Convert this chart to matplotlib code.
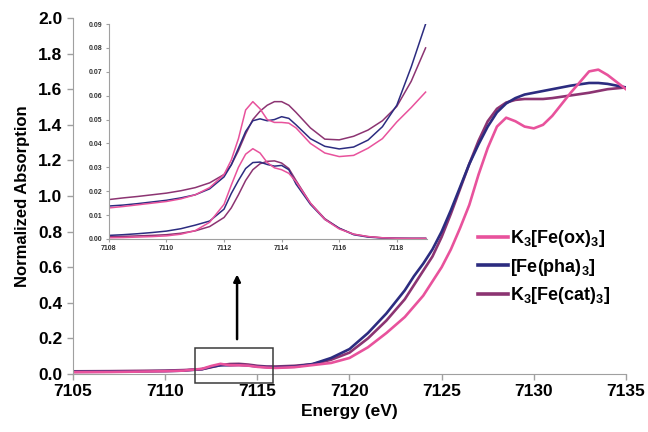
#!/usr/bin/env python
import matplotlib
matplotlib.use('Agg')
import matplotlib.pyplot as plt
from matplotlib.patches import Rectangle

plt.rcParams['font.family'] = ['Liberation Sans', 'DejaVu Sans']
plt.rcParams['font.weight'] = 'bold'
plt.rcParams['mathtext.fontset'] = 'custom'
plt.rcParams['mathtext.rm'] = 'Liberation Sans:bold'
plt.rcParams['mathtext.bf'] = 'Liberation Sans:bold'
plt.rcParams['mathtext.default'] = 'bf'

# Colours
c_ox = '#e8529c'
c_pha = '#2c2c80'
c_cat = '#8c3472'
grey = '#a0a0a0'

labels = [r'K$_3$[Fe(ox)$_3$]', r'[Fe(pha)$_3$]', r'K$_3$[Fe(cat)$_3$]']

# Main spectra (energy in eV, normalized absorption)
energy = [7105, 7107, 7109, 7110, 7111, 7112, 7112.5, 7113, 7113.5, 7114, 7114.5,
          7115, 7115.5, 7116, 7117, 7118, 7119, 7120, 7121, 7122, 7123, 7123.5,
          7124, 7124.5, 7125, 7125.5, 7126, 7126.5, 7127, 7127.5, 7128, 7128.5,
          7129, 7129.5, 7130, 7130.5, 7131, 7132, 7133, 7133.5, 7134, 7135]
ox = [0.010, 0.011, 0.014, 0.0155, 0.019, 0.029, 0.045, 0.057, 0.049, 0.049, 0.047,
      0.040, 0.036, 0.034, 0.038, 0.050, 0.062, 0.09, 0.15, 0.23, 0.32, 0.38,
      0.44, 0.52, 0.60, 0.70, 0.82, 0.95, 1.12, 1.27, 1.39, 1.44,
      1.42, 1.39, 1.38, 1.40, 1.45, 1.58, 1.70, 1.71, 1.68, 1.60]
pha = [0.012, 0.013, 0.015, 0.016, 0.019, 0.027, 0.040, 0.049, 0.049, 0.051, 0.048,
       0.042, 0.039, 0.038, 0.041, 0.056, 0.09, 0.14, 0.23, 0.34, 0.47, 0.55,
       0.62, 0.70, 0.80, 0.92, 1.05, 1.18, 1.29, 1.39, 1.47, 1.52,
       1.55, 1.57, 1.58, 1.59, 1.60, 1.62, 1.635, 1.635, 1.63, 1.61]
cat = [0.015, 0.016, 0.018, 0.019, 0.022, 0.027, 0.038, 0.050, 0.056, 0.057, 0.053,
       0.046, 0.042, 0.042, 0.046, 0.055, 0.080, 0.12, 0.20, 0.30, 0.42, 0.50,
       0.58, 0.66, 0.77, 0.90, 1.04, 1.18, 1.31, 1.42, 1.49, 1.525,
       1.54, 1.545, 1.545, 1.545, 1.55, 1.565, 1.58, 1.59, 1.60, 1.61]

# Pre-edge inset: raw data and background subtracted
e_pre = [7108, 7108.5, 7109, 7109.5, 7110, 7110.5, 7111, 7111.5, 7112, 7112.25,
         7112.5, 7112.75, 7113, 7113.25, 7113.5, 7113.75, 7114, 7114.25, 7114.5,
         7115, 7115.5, 7116, 7116.5, 7117, 7117.5, 7118, 7118.5, 7119]
ox_raw = [0.0130, 0.0136, 0.0143, 0.0150, 0.0157, 0.0168, 0.0185, 0.0215, 0.0270, 0.0330,
          0.0420, 0.0540, 0.0575, 0.0545, 0.0500, 0.0488, 0.0488, 0.0485, 0.0465,
          0.0400, 0.0360, 0.0345, 0.0350, 0.0380, 0.0420, 0.0490, 0.0550, 0.0615]
pha_raw = [0.0138, 0.0142, 0.0148, 0.0155, 0.0162, 0.0172, 0.0185, 0.0210, 0.0260, 0.0310,
           0.0380, 0.0450, 0.0495, 0.0503, 0.0495, 0.0500, 0.0512, 0.0505, 0.0478,
           0.0420, 0.0388, 0.0377, 0.0385, 0.0414, 0.0470, 0.0560, 0.0720, 0.0900]
cat_raw = [0.0165, 0.0172, 0.0178, 0.0185, 0.0192, 0.0202, 0.0215, 0.0235, 0.0270, 0.0310,
           0.0370, 0.0440, 0.0500, 0.0535, 0.0560, 0.0575, 0.0575, 0.0560, 0.0530,
           0.0465, 0.0418, 0.0415, 0.0430, 0.0456, 0.0495, 0.0555, 0.0660, 0.0800]
ox_sub = [0.0005, 0.0006, 0.0008, 0.0010, 0.0013, 0.0020, 0.0035, 0.0070, 0.0145, 0.0225,
          0.0300, 0.0355, 0.0378, 0.0360, 0.0320, 0.0298, 0.0290, 0.0275, 0.0240,
          0.0150, 0.0082, 0.0042, 0.0020, 0.0010, 0.0005, 0.0003, 0.0002, 0.0002]
pha_sub = [0.0015, 0.0018, 0.0022, 0.0027, 0.0033, 0.0043, 0.0058, 0.0075, 0.0125, 0.0190,
           0.0245, 0.0295, 0.0320, 0.0322, 0.0312, 0.0305, 0.0308, 0.0290, 0.0230,
           0.0145, 0.0082, 0.0045, 0.0018, 0.0008, 0.0004, 0.0003, 0.0002, 0.0002]
cat_sub = [0.0010, 0.0011, 0.0013, 0.0015, 0.0018, 0.0024, 0.0034, 0.0052, 0.0090, 0.0130,
           0.0185, 0.0245, 0.0290, 0.0315, 0.0325, 0.0327, 0.0318, 0.0295, 0.0245,
           0.0150, 0.0085, 0.0045, 0.0020, 0.0010, 0.0005, 0.0003, 0.0003, 0.0003]

fig = plt.figure(figsize=(6.48, 4.32), dpi=100)
ax = fig.add_axes([0.1127, 0.1343, 0.8533, 0.824])

ax.plot(energy, cat, color=c_cat, lw=1.9, label=labels[2])
ax.plot(energy, pha, color=c_pha, lw=1.9, label=labels[1])
ax.plot(energy, ox, color=c_ox, lw=1.9, label=labels[0])

ax.set_xlim(7105, 7135)
ax.set_ylim(0, 2.0)
ax.set_xticks(range(7105, 7136, 5))
ax.set_yticks([0.0, 0.2, 0.4, 0.6, 0.8, 1.0, 1.2, 1.4, 1.6, 1.8, 2.0])
ax.set_yticklabels(['%.1f' % v for v in ax.get_yticks()])
for s in ['top', 'right']:
    ax.spines[s].set_visible(False)
for s in ['left', 'bottom']:
    ax.spines[s].set_color(grey)
ax.tick_params(colors=grey, labelcolor='black', labelsize=12.5, length=4, width=1)
ax.set_xlabel('Energy (eV)', fontsize=12.5, fontweight='bold', labelpad=3)
ax.set_ylabel('Normalized Absorption', fontsize=12, fontweight='bold', labelpad=6)

# Zoom box and arrow
ax.add_patch(Rectangle((7111.6, -0.05), 4.25, 0.195, fill=False, edgecolor='#3a3a3a',
                       lw=1.1, clip_on=False, zorder=5))
ax.annotate('', xy=(7113.9, 0.575), xytext=(7113.9, 0.18),
            arrowprops=dict(arrowstyle='-|>', color='black', lw=1.8, mutation_scale=10))

# Legend (ordered ox, pha, cat)
h, l = ax.get_legend_handles_labels()
order = [2, 1, 0]
leg = ax.legend([h[i] for i in order], [l[i] for i in order], loc='upper left',
                bbox_to_anchor=(0.732, 0.409), frameon=False, borderpad=0, borderaxespad=0,
                handlelength=1.7, handletextpad=0.08, labelspacing=0.4,
                prop={'size': 13, 'weight': 'bold'})
for line in leg.get_lines():
    line.set_linewidth(2.6)

# Inset with pre-edge region
ins = fig.add_axes([0.168, 0.4468, 0.491, 0.4976])
ins.plot(e_pre, cat_raw, color=c_cat, lw=1.1)
ins.plot(e_pre, pha_raw, color=c_pha, lw=1.1)
ins.plot(e_pre, ox_raw, color=c_ox, lw=1.1)
ins.plot(e_pre, cat_sub, color=c_cat, lw=1.1)
ins.plot(e_pre, pha_sub, color=c_pha, lw=1.1)
ins.plot(e_pre, ox_sub, color=c_ox, lw=1.1)
ins.set_xlim(7108, 7119.05)
ins.set_ylim(0, 0.09)
ins.set_xticks(range(7108, 7119, 2))
ins.set_yticks([0.00, 0.01, 0.02, 0.03, 0.04, 0.05, 0.06, 0.07, 0.08, 0.09])
ins.set_yticklabels(['%.2f' % v for v in ins.get_yticks()])
ins.patch.set_alpha(0)
for s in ['top', 'right']:
    ins.spines[s].set_visible(False)
for s in ['left', 'bottom']:
    ins.spines[s].set_color(grey)
    ins.spines[s].set_linewidth(0.8)
ins.tick_params(colors=grey, labelcolor='#333333', labelsize=5, length=2.5, width=0.8, pad=2)

fig.savefig('out.png', dpi=100)
